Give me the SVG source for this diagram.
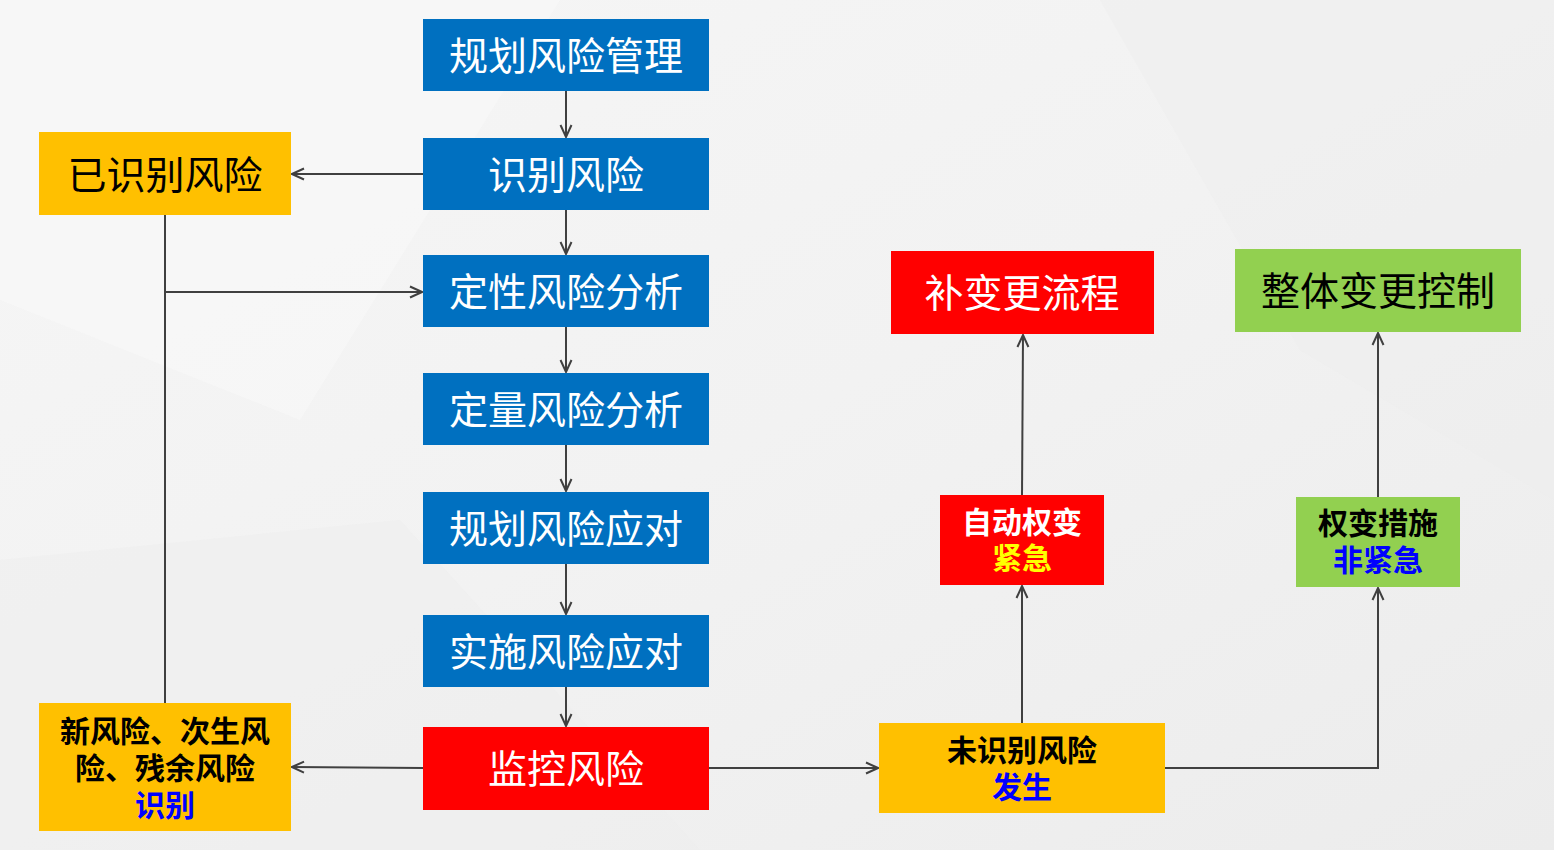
<svg xmlns="http://www.w3.org/2000/svg" width="1554" height="850" viewBox="0 0 1554 850">
<defs>
<linearGradient id="bg" x1="0" y1="0" x2="1" y2="1">
<stop offset="0" stop-color="#f6f6f6"/>
<stop offset="0.5" stop-color="#f2f2f2"/>
<stop offset="1" stop-color="#ececec"/>
</linearGradient>
<marker id="arr" viewBox="0 0 14 14" refX="13" refY="7" markerWidth="14" markerHeight="14" markerUnits="userSpaceOnUse" orient="auto">
<path d="M1,1.5 L13,7 L1,12.5" fill="none" stroke="#404040" stroke-width="2"/>
</marker>
<style>
.c{fill:none;stroke:#404040;stroke-width:2}
.ca{fill:none;stroke:#404040;stroke-width:2;marker-end:url(#arr)}
.t{font-family:"Noto Sans CJK SC","Noto Sans",sans-serif;text-anchor:middle;dominant-baseline:central}
.big{font-size:39px}
.sm{font-size:30px;font-weight:bold}
.blue{fill:#0070C0}
.red{fill:#FF0000}
.org{fill:#FFC000}
.grn{fill:#92D050}
</style>
</defs>
<rect width="1554" height="850" fill="url(#bg)"/>
<polygon points="0,0 560,0 300,420 0,300" fill="#f8f8f8" opacity="0.6"/>
<polygon points="1100,0 1554,0 1554,500 1300,350" fill="#ededed" opacity="0.5"/>
<polygon points="0,560 400,520 700,850 0,850" fill="#eeeeee" opacity="0.5"/>

<g id="connectors">
<line class="ca" x1="566" y1="91" x2="566" y2="137"/>
<line class="ca" x1="566" y1="210" x2="566" y2="254"/>
<line class="ca" x1="566" y1="327" x2="566" y2="372"/>
<line class="ca" x1="566" y1="445" x2="566" y2="491"/>
<line class="ca" x1="566" y1="564" x2="566" y2="614"/>
<line class="ca" x1="566" y1="687" x2="566" y2="726"/>
<line class="ca" x1="423" y1="174" x2="292" y2="174"/>
<line class="c" x1="165" y1="215" x2="165" y2="703"/>
<line class="ca" x1="165" y1="292" x2="422" y2="292"/>
<line class="ca" x1="423" y1="768" x2="292" y2="767"/>
<line class="ca" x1="709" y1="768" x2="878" y2="768"/>
<line class="ca" x1="1022" y1="723" x2="1022" y2="586"/>
<line class="ca" x1="1022" y1="495" x2="1023" y2="335"/>
<polyline class="ca" points="1165,768 1378,768 1378,588"/>
<line class="ca" x1="1378" y1="497" x2="1378" y2="333"/>
</g>

<g id="n1"><rect class="blue" x="423" y="19" width="286" height="72"/><text class="t big" x="566" y="53" fill="#fff">规划风险管理</text></g>
<g id="n2"><rect class="blue" x="423" y="138" width="286" height="72"/><text class="t big" x="566" y="172" fill="#fff">识别风险</text></g>
<g id="n3"><rect class="blue" x="423" y="255" width="286" height="72"/><text class="t big" x="566" y="289" fill="#fff">定性风险分析</text></g>
<g id="n4"><rect class="blue" x="423" y="373" width="286" height="72"/><text class="t big" x="566" y="407" fill="#fff">定量风险分析</text></g>
<g id="n5"><rect class="blue" x="423" y="492" width="286" height="72"/><text class="t big" x="566" y="526" fill="#fff">规划风险应对</text></g>
<g id="n6"><rect class="blue" x="423" y="615" width="286" height="72"/><text class="t big" x="566" y="649" fill="#fff">实施风险应对</text></g>
<g id="n7"><rect class="red" x="423" y="727" width="286" height="83"/><text class="t big" x="566" y="766" fill="#fff">监控风险</text></g>

<g id="known"><rect class="org" x="39" y="132" width="252" height="83"/><text class="t big" x="165" y="172" fill="#000">已识别风险</text></g>
<g id="newrisk"><rect class="org" x="39" y="703" width="252" height="128"/>
<text class="t sm" x="165" y="729" fill="#000">新风险、次生风</text>
<text class="t sm" x="165" y="766" fill="#000">险、残余风险</text>
<text class="t sm" x="165" y="803" fill="#0000FF">识别</text></g>

<g id="unknown"><rect class="org" x="879" y="723" width="286" height="90"/>
<text class="t sm" x="1022" y="748" fill="#000">未识别风险</text>
<text class="t sm" x="1022" y="785" fill="#0000FF">发生</text></g>

<g id="auto"><rect class="red" x="940" y="495" width="164" height="90"/>
<text class="t sm" x="1022" y="520" fill="#fff">自动权变</text>
<text class="t sm" x="1022" y="556" fill="#FFFF00">紧急</text></g>

<g id="patch"><rect class="red" x="891" y="251" width="263" height="83"/><text class="t big" x="1022" y="290" fill="#fff">补变更流程</text></g>

<g id="workaround"><rect class="grn" x="1296" y="497" width="164" height="90"/>
<text class="t sm" x="1378" y="521" fill="#000">权变措施</text>
<text class="t sm" x="1378" y="558" fill="#0000FF">非紧急</text></g>

<g id="icc"><rect class="grn" x="1235" y="249" width="286" height="83"/><text class="t big" x="1378" y="288" fill="#000">整体变更控制</text></g>
</svg>
